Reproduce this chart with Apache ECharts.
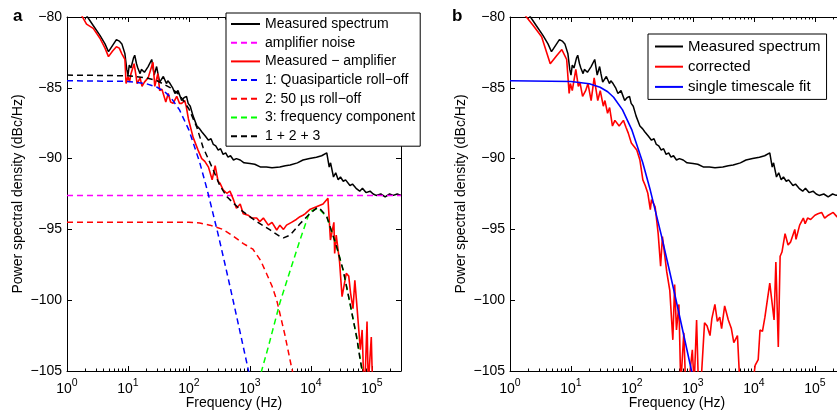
<!DOCTYPE html>
<html><head><meta charset="utf-8">
<script src="https://cdn.jsdelivr.net/npm/echarts@6/dist/echarts.min.js"></script>
<style>html,body{margin:0;padding:0;background:#fff}#c{width:837px;height:413px}</style>
</head><body><div id="c"></div>
<script>
const FONT = 'Liberation Sans, Arial, Helvetica, sans-serif';

// ---- axis ticks / labels ----
const xMajorTicks = [1, 10, 100, 1000, 10000, 100000];
const xTickExponents = ['0', '1', '2', '3', '4', '5'];
const xMinorTicks = [2,3,4,5,6,7,8,9,20,30,40,50,60,70,80,90,200,300,400,500,600,700,800,900,
  2000,3000,4000,5000,6000,7000,8000,9000,20000,30000,40000,50000,60000,70000,80000,90000,200000,300000];
const yTicks = [-105, -100, -95, -90, -85, -80];

// ---- legend names ----
const leftLegendNames = ['Measured spectrum', 'amplifier noise', 'Measured \u2212 amplifier',
  '1: Quasiparticle roll\u2212off', '2: 50 \u00b5s roll\u2212off', '3: frequency component', '1 + 2 + 3'];
const rightLegendNames = ['Measured spectrum', 'corrected', 'single timescale fit'];

// ---- data: [frequency (Hz), dBc/Hz] ----
const measuredSpectrum = [[1,-77.9],[1.41,-78.9],[2.09,-79.9],[2.69,-80.6],[3.47,-81.3],[4.2,-81.9],[4.79,-82.45],[5.6,-82.0],[6.46,-81.6],[7.2,-81.7],[7.94,-81.9],[8.91,-82.6],[9.55,-83.7],[10,-84.1],[10.5,-83.4],[11.2,-83.6],[12.3,-82.9],[12.9,-82.7],[13.8,-83.3],[14.5,-83.6],[15.8,-84.0],[16.6,-83.7],[18.6,-83.9],[20,-83.7],[21.4,-83.5],[24.5,-83.0],[26.9,-84.1],[29.5,-83.5],[31,-84.0],[33.1,-84.6],[38,-84.2],[42.7,-84.7],[45,-84.5],[49,-84.7],[54,-85.0],[58.9,-85.4],[66.1,-85.2],[75.9,-85.9],[83,-85.7],[91.2,-85.6],[97,-86.1],[105,-86.3],[117,-87.0],[135,-87.7],[150,-87.9],[162,-88.1],[185,-88.4],[209,-88.7],[230,-88.6],[251,-89.0],[275,-89.1],[302,-89.4],[330,-89.3],[363,-89.7],[400,-89.6],[437,-89.9],[480,-89.8],[537,-90.1],[600,-90.0],[692,-90.1],[800,-90.3],[1000,-90.35],[1200,-90.4],[1500,-90.6],[1862,-90.6],[2300,-90.65],[3090,-90.6],[3800,-90.5],[4571,-90.45],[6000,-90.3],[7413,-90.1],[9500,-90.0],[12300,-89.9],[15000,-89.8],[18200,-89.6],[19000,-89.55],[19950,-90.6],[21000,-90.3],[23440,-91.3],[25500,-91.0],[28000,-91.5],[30500,-91.3],[33880,-91.6],[37000,-91.5],[43650,-91.9],[48000,-91.8],[55000,-92.1],[63100,-92.3],[70000,-92.1],[80000,-92.4],[93330,-92.3],[105000,-92.5],[117500,-92.6],[140000,-92.5],[165000,-92.7],[195000,-92.5],[223900,-92.6],[260000,-92.5],[302000,-92.6]];

const amplifierNoise = [[1,-92.6],[300000,-92.6]];

const measuredMinusAmp = [[1,-78.2],[1.41,-79.2],[2.09,-80.5],[2.69,-80.8],[3.47,-81.5],[4.2,-82.2],[4.79,-82.8],[5.6,-82.4],[6.46,-82.1],[7.2,-82.2],[7.94,-82.6],[8.91,-83.0],[9.3,-84.7],[9.55,-84.7],[10,-84.2],[10.6,-84.6],[11.2,-84.0],[12.6,-83.3],[13.5,-84.1],[14.1,-84.7],[15.8,-84.3],[17,-84.9],[18.6,-84.6],[21.4,-84.3],[24,-83.6],[25.7,-83.2],[27.5,-84.9],[30.9,-84.0],[33.1,-85.2],[36,-85.1],[41.7,-86.0],[45.7,-85.4],[50,-86.0],[55,-86.1],[63,-85.6],[70,-86.1],[76,-86.1],[85,-85.9],[90,-86.3],[98,-87.2],[117,-88.5],[141,-89.4],[162,-90.0],[182,-90.2],[209,-90.6],[219,-90.7],[240,-91.5],[269,-90.5],[300,-91.6],[324,-91.75],[363,-92.2],[417,-92.45],[470,-92.3],[537,-92.9],[600,-93.5],[692,-93.2],[776,-93.9],[933,-94.0],[1070,-94.2],[1290,-94.2],[1450,-94.45],[1660,-94.2],[2000,-94.7],[2300,-94.5],[2750,-95.04],[3100,-94.7],[3550,-95.0],[3980,-94.7],[4800,-94.5],[5750,-94.3],[6610,-94.1],[7400,-94.0],[8000,-93.9],[9550,-93.6],[12300,-93.4],[15800,-93.2],[19000,-92.8],[19500,-92.7],[20900,-95.75],[23800,-94.5],[24500,-96.7],[26000,-95.4],[29500,-97.3],[32400,-99.75],[38000,-98.1],[41700,-98.3],[44700,-99.5],[49000,-100.6],[52500,-98.6],[57500,-100.7],[64600,-103.5],[69200,-102.1],[72400,-104.9],[76000,-106.5],[83200,-101.5],[87100,-106],[97700,-102.6],[103000,-106.5],[120000,-108],[300000,-110]];

const quasiparticleRollOff = [[1,-84.5],[10,-84.55],[20,-84.71],[30,-84.96],[40,-85.28],[50,-85.67],[70,-86.56],[100,-87.99],[150,-90.27],[200,-92.24],[300,-95.33],[400,-97.67],[500,-99.53],[700,-102.39],[1000,-105.45]];

const rollOff50us = [[1,-94.5],[100,-94.5],[150,-94.55],[220,-94.7],[360,-95.0],[540,-95.5],[780,-96.0],[1120,-96.4],[1500,-97.2],[1860,-98.1],[2300,-99.0],[2750,-100.0],[3200,-101.2],[3720,-102.4],[4200,-103.5],[4790,-104.7],[5500,-105.8]];

const frequencyComponent = [[1300,-106.5],[1550,-105],[2000,-103.3],[3090,-100.2],[4570,-97.9],[6610,-95.75],[9550,-93.75],[13200,-93.5],[18200,-94.1],[26300,-96.2],[33900,-97.9],[43600,-100.2],[56200,-102.6],[63100,-103.9],[72400,-105.5]];

const sumModel = [[1,-84.1],[10,-84.15],[20,-84.3],[30,-84.5],[50,-85.0],[70,-85.5],[100,-86.5],[135,-87.8],[170,-89.2],[250,-90.8],[320,-91.9],[420,-92.7],[690,-93.6],[1290,-94.45],[2140,-95.04],[3100,-95.5],[3550,-95.6],[4570,-95.4],[6610,-94.6],[9550,-93.9],[12300,-93.5],[13500,-93.45],[18200,-94.1],[26300,-96.2],[33900,-97.9],[43600,-100.2],[56200,-102.6],[63100,-104.0],[72400,-105.5]];

const corrected = [[1,-78.3],[1.41,-79.3],[1.86,-80.0],[2.4,-80.6],[3.3,-81.4],[4.57,-83.3],[5.9,-82.7],[7.08,-82.3],[8.5,-83.0],[9.33,-85.4],[9.77,-84.7],[10.5,-85.2],[12,-83.7],[13.2,-84.9],[14,-84.6],[15.5,-85.6],[17.4,-85.2],[19,-84.7],[21.4,-85.9],[24,-84.3],[27.5,-85.9],[30.2,-85.2],[33.9,-86.3],[36,-85.9],[39.8,-86.8],[43,-86.4],[47.9,-87.7],[52.5,-87.3],[61.7,-87.7],[72.4,-87.3],[80,-87.8],[87,-88.2],[97.7,-88.9],[120,-89.4],[135,-90.1],[151,-91.5],[165,-91.9],[182,-92.45],[200,-93.6],[209,-92.9],[240,-93.4],[269,-95.3],[295,-97.6],[316,-95.5],[372,-98.0],[417,-99.3],[468,-102.8],[501,-98.9],[537,-102.1],[589,-100.3],[631,-106],[708,-102.3],[759,-106],[850,-106],[977,-103.5],[1047,-106],[1148,-101.4],[1230,-106],[1350,-106],[1549,-101.6],[1700,-101.8],[1905,-102.5],[2042,-101.3],[2291,-100.3],[2512,-101.5],[2754,-101.2],[2951,-102.0],[3311,-100.4],[3802,-101.4],[4266,-102.0],[4677,-103.0],[5370,-102.5],[5890,-106],[7000,-107],[8900,-107],[10470,-104.6],[11750,-104.2],[12590,-102.1],[13800,-102.2],[15140,-101.2],[18200,-98.8],[21400,-101.4],[22900,-97.3],[25100,-103.3],[26900,-96.9],[28840,-96.6],[32400,-95.3],[36300,-96.1],[39800,-95.9],[46800,-95.0],[49000,-95.7],[56200,-94.7],[64600,-94.2],[69200,-94.6],[75900,-94.2],[85100,-94.3],[100000,-94.0],[112200,-93.9],[128800,-93.8],[144500,-94.2],[166000,-94.0],[199500,-93.8],[229000,-94.1],[302000,-94.3]];

const singleTimescaleFit = quasiparticleRollOff;

// ---- build chart ----
const chart = echarts.init(document.getElementById('c'), null, {renderer: 'canvas'});
const black = '#000';

function xAxesFor(g) {
  const base = {type: 'log', logBase: 10, min: 1, max: 300000, gridIndex: g,
    splitLine: {show: false}, axisLine: {show: false}, axisLabel: {show: false}, axisTick: {show: false}};
  const line = {show: true, onZero: false, lineStyle: {color: black, width: 1}};
  return [
    Object.assign({}, base, {position: 'bottom', axisLine: line,
      axisTick: {show: true, inside: true, length: 5, customValues: xMajorTicks, lineStyle: {color: black}},
      axisLabel: {show: true, customValues: xMajorTicks, margin: 7, color: black,
        formatter: v => '{b|10}{s|' + xTickExponents[xMajorTicks.indexOf(v)] + '}',
        rich: {b: {fontSize: 14, fontFamily: FONT, color: black, lineHeight: 18, verticalAlign: 'bottom'},
               s: {fontSize: 10.5, fontFamily: FONT, color: black, lineHeight: 12, verticalAlign: 'top'}}},
      name: 'Frequency (Hz)', nameLocation: 'middle', nameGap: 25, nameMoveOverlap: false,
      nameTextStyle: {fontSize: 14, fontFamily: FONT, color: black}}),
    Object.assign({}, base, {position: 'bottom',
      axisTick: {show: true, inside: true, length: 2.5, customValues: xMinorTicks, lineStyle: {color: black}}}),
    Object.assign({}, base, {position: 'top', axisLine: line,
      axisTick: {show: true, inside: true, length: 5, customValues: xMajorTicks, lineStyle: {color: black}}}),
    Object.assign({}, base, {position: 'top',
      axisTick: {show: true, inside: true, length: 2.5, customValues: xMinorTicks, lineStyle: {color: black}}})
  ];
}
function yAxesFor(g) {
  const common = {type: 'value', min: -105, max: -80, interval: 5, gridIndex: g, splitLine: {show: false},
    axisLine: {show: true, onZero: false, lineStyle: {color: black, width: 1}},
    axisTick: {show: true, inside: true, length: 5, lineStyle: {color: black}}};
  return [
    Object.assign({}, common, {position: 'left',
      axisLabel: {show: true, margin: 5, fontSize: 14, fontFamily: FONT, color: black,
        customValues: yTicks, formatter: v => '\u2212' + Math.abs(v)},
      name: 'Power spectral density (dBc/Hz)', nameLocation: 'middle', nameGap: 42, nameRotate: 90,
      nameMoveOverlap: false,
      nameTextStyle: {fontSize: 14, fontFamily: FONT, color: black}}),
    Object.assign({}, common, {position: 'right', axisLabel: {show: false}})
  ];
}

function ser(name, data, color, dashed, width, g) {
  return {type: 'line', name: name, data: data, xAxisIndex: g * 4, yAxisIndex: g * 2,
    symbol: 'none', showSymbol: false, animation: false, silent: true, clip: true,
    lineStyle: {color: color, width: width, type: dashed ? [6, 4] : 'solid'},
    itemStyle: {color: color}, emphasis: {disabled: true}};
}

const legendCommon = {orient: 'vertical', selectedMode: false, backgroundColor: '#fff',
  borderColor: black, borderWidth: 1, borderRadius: 0, itemWidth: 29, itemHeight: 12,
  itemStyle: {opacity: 0, borderWidth: 0},
  textStyle: {fontSize: 14, fontFamily: FONT, color: black}, lineStyle: {width: 2}};

const option = {
  backgroundColor: '#fff',
  animation: false,
  grid: [
    {left: 67, right: 436, top: 17, bottom: 42, containLabel: false, outerBoundsMode: 'none'},
    {left: 510, right: -7, top: 17, bottom: 42, containLabel: false, outerBoundsMode: 'none'}
  ],
  xAxis: xAxesFor(0).concat(xAxesFor(1)),
  yAxis: yAxesFor(0).concat(yAxesFor(1)),
  legend: [
    Object.assign({}, legendCommon, {data: leftLegendNames, left: 226, top: 13, itemGap: 4.7, padding: [4, 5, 3, 4]}),
    Object.assign({}, legendCommon, {data: rightLegendNames, left: 648, top: 34, itemGap: 5.2, itemWidth: 28,
      padding: [5, 6, 5, 6], textStyle: {fontSize: 15, fontFamily: FONT, color: black}})
  ],
  graphic: [
    {type: 'text', left: 13, top: 8, style: {text: 'a', font: 'bold 17px ' + FONT, fill: black}},
    {type: 'text', left: 452, top: 8, style: {text: 'b', font: 'bold 17px ' + FONT, fill: black}}
  ],
  series: [
    ser('Measured spectrum', measuredSpectrum, '#000000', false, 1.5, 0),
    ser('amplifier noise', amplifierNoise, '#ff00ff', true, 1.5, 0),
    ser('Measured \u2212 amplifier', measuredMinusAmp, '#ff0000', false, 1.6, 0),
    ser('1: Quasiparticle roll\u2212off', quasiparticleRollOff, '#0000ff', true, 1.5, 0),
    ser('2: 50 \u00b5s roll\u2212off', rollOff50us, '#ff0000', true, 1.5, 0),
    ser('3: frequency component', frequencyComponent, '#00ff00', true, 1.5, 0),
    ser('1 + 2 + 3', sumModel, '#000000', true, 1.5, 0),
    ser('Measured spectrum', measuredSpectrum, '#000000', false, 1.5, 1),
    ser('corrected', corrected, '#ff0000', false, 1.6, 1),
    ser('single timescale fit', singleTimescaleFit, '#0000ff', false, 1.6, 1)
  ]
};
chart.setOption(option);
</script></body></html>
